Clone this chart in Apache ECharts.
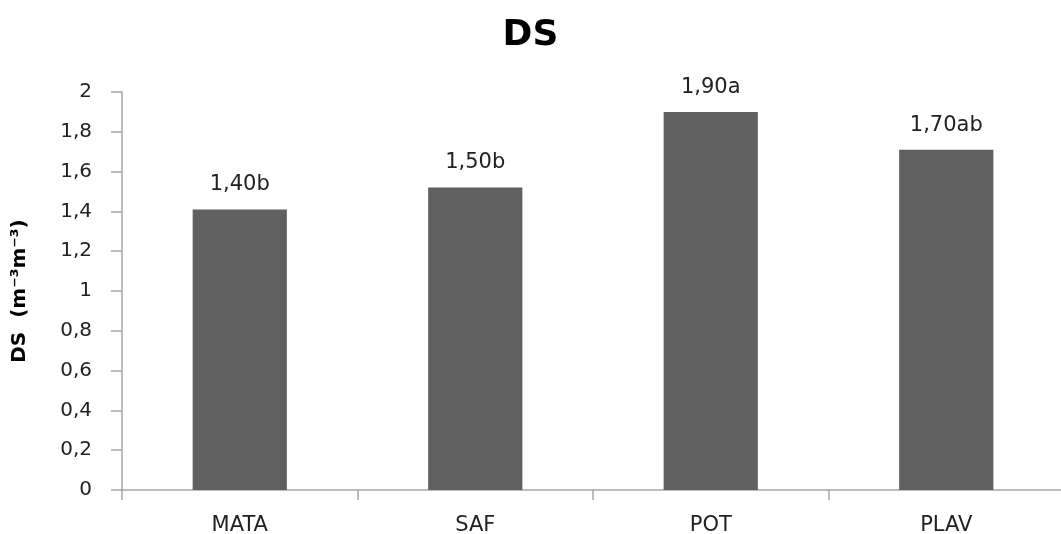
<!DOCTYPE html>
<html>
<head>
<meta charset="utf-8">
<script src="https://cdn.jsdelivr.net/npm/echarts@6/dist/echarts.min.js"></script>
<style>
html,body{margin:0;padding:0;background:#fff;}
#chart{width:1061px;height:534px;}
</style>
</head>
<body>
<div id="chart"></div>
<script>
const categories = ['MATA', 'SAF', 'POT', 'PLAV'];
const values = [1.41, 1.52, 1.90, 1.71];
const labelTexts = ['1,40b', '1,50b', '1,90a', '1,70ab'];
const yMin = 0, yMax = 2, yStep = 0.2;

const FONT = '"DejaVu Sans", "Open Sans", sans-serif';
const chart = echarts.init(document.getElementById('chart'));
chart.setOption({
  backgroundColor: '#ffffff',
  animation: false,
  title: {
    text: 'DS',
    left: 'center',
    top: 13,
    textStyle: { fontFamily: FONT, fontSize: 36, fontWeight: 'bold', color: '#000' }
  },
  grid: { left: 122, right: -3, top: 92, bottom: 44, containLabel: false, outerBoundsMode: 'none' },
  xAxis: {
    type: 'category',
    data: categories,
    axisLine: { lineStyle: { color: '#a6a6a6', width: 1.5 } },
    axisTick: { show: true, alignWithLabel: false, length: 10, lineStyle: { color: '#a6a6a6', width: 1.5 } },
    axisLabel: { margin: 25, fontFamily: FONT, fontSize: 21, color: '#222' }
  },
  yAxis: {
    type: 'value',
    min: yMin, max: yMax, interval: yStep,
    name: 'DS  (m⁻³m⁻³)',
    nameLocation: 'middle',
    nameGap: 92,
    nameRotate: 90,
    nameTextStyle: { fontFamily: FONT, fontSize: 20, fontWeight: 'bold', color: '#000' },
    splitLine: { show: false },
    axisLine: { show: true, lineStyle: { color: '#a6a6a6', width: 1.5 } },
    axisTick: { show: true, length: 11, lineStyle: { color: '#a6a6a6', width: 1.5 } },
    axisLabel: {
      margin: 30, fontFamily: FONT, fontSize: 20, color: '#222',
      formatter: v => String(Math.round(v * 10) / 10).replace('.', ',')
    }
  },
  series: [{
    type: 'bar',
    data: values,
    barWidth: '40%',
    itemStyle: { color: '#606060' },
    label: {
      show: true,
      position: 'top',
      distance: 14,
      fontFamily: FONT, fontSize: 21, color: '#222',
      formatter: p => labelTexts[p.dataIndex]
    }
  }]
});
</script>
</body>
</html>
